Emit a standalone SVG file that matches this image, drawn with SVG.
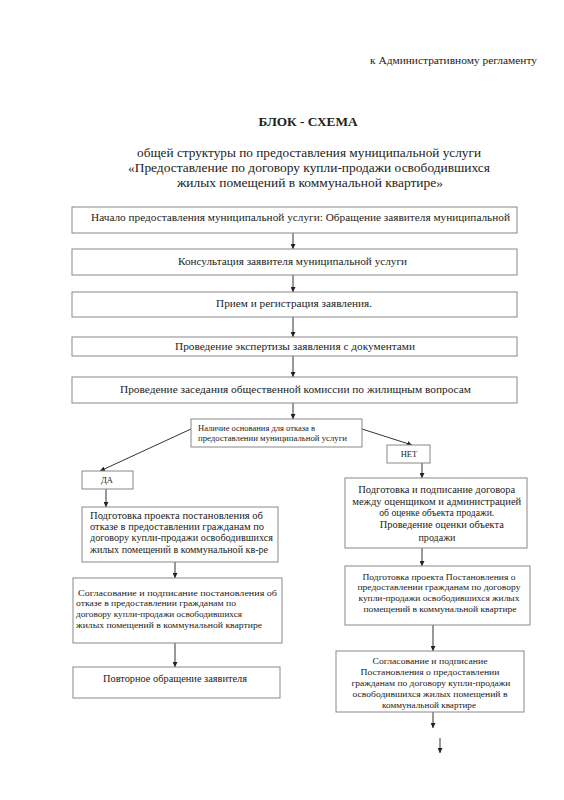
<svg xmlns="http://www.w3.org/2000/svg" width="564" height="800" viewBox="0 0 564 800">
<defs>
<marker id="ah" viewBox="0 0 10 10" refX="10" refY="5" markerWidth="5" markerHeight="5" markerUnits="userSpaceOnUse" orient="auto"><path d="M0,0 L10,5 L0,10 z" fill="#222"/></marker>
<style>
.t{font-family:"Liberation Serif","Times New Roman",serif;fill:#222}
.b{fill:#fff;stroke:#888;stroke-width:1}
.c{stroke:#333;stroke-width:1;fill:none;marker-end:url(#ah)}
.m{text-anchor:middle}
</style>
</defs>
<rect width="564" height="800" fill="#fff"/>
<g id="header">
<text class="t" x="537" y="64" font-size="11" text-anchor="end" textLength="167" lengthAdjust="spacingAndGlyphs">к Административному регламенту</text>
<text class="t m" x="308" y="126" font-size="13" font-weight="bold" textLength="99" lengthAdjust="spacingAndGlyphs">БЛОК - СХЕМА</text>
<text class="t m" x="309" y="157" font-size="12.5" textLength="344" lengthAdjust="spacingAndGlyphs">общей структуры по предоставления муниципальной услуги</text>
<text class="t m" x="309" y="172" font-size="12.5" textLength="362" lengthAdjust="spacingAndGlyphs">«Предоставление  по договору купли-продажи освободившихся</text>
<text class="t m" x="310" y="187" font-size="12.5" textLength="266" lengthAdjust="spacingAndGlyphs">жилых помещений  в коммунальной квартире»</text>
</g>
<g id="connectors">
<line class="c" x1="293" y1="233" x2="293" y2="249"/>
<line class="c" x1="293" y1="275" x2="293" y2="292"/>
<line class="c" x1="293" y1="317" x2="293" y2="337"/>
<line class="c" x1="293" y1="356" x2="293" y2="377"/>
<line class="c" x1="293" y1="403" x2="293" y2="419"/>
<line class="c" x1="191" y1="429" x2="100" y2="471"/>
<line class="c" x1="362" y1="429" x2="412" y2="445"/>
<line class="c" x1="106" y1="489" x2="106" y2="507"/>
<line class="c" x1="422" y1="463" x2="422" y2="478"/>
<line class="c" x1="422" y1="548" x2="422" y2="566"/>
<line class="c" x1="175" y1="562" x2="175" y2="578"/>
<line class="c" x1="433" y1="625" x2="433" y2="651"/>
<line class="c" x1="175" y1="643" x2="175" y2="667"/>
<line class="c" x1="433" y1="712" x2="433" y2="728"/>
<line class="c" x1="440" y1="738" x2="440" y2="753"/>
</g>
<g id="n1">
<rect class="b" x="72" y="207" width="445" height="26"/>
<text class="t" x="91" y="221" font-size="10.5" textLength="419" lengthAdjust="spacingAndGlyphs">Начало предоставления муниципальной услуги: Обращение заявителя муниципальной</text>
</g>
<g id="n2">
<rect class="b" x="72" y="249" width="445" height="26"/>
<text class="t" x="178" y="265" font-size="10.5" textLength="229" lengthAdjust="spacingAndGlyphs">Консультация заявителя муниципальной услуги</text>
</g>
<g id="n3">
<rect class="b" x="72" y="292" width="445" height="25"/>
<text class="t" x="216" y="307" font-size="10.5" textLength="156" lengthAdjust="spacingAndGlyphs">Прием и регистрация заявления.</text>
</g>
<g id="n4">
<rect class="b" x="72" y="337" width="445" height="19"/>
<text class="t" x="175" y="350" font-size="10.5" textLength="240" lengthAdjust="spacingAndGlyphs">Проведение экспертизы заявления с документами</text>
</g>
<g id="n5">
<rect class="b" x="72" y="377" width="445" height="26"/>
<text class="t" x="120" y="393" font-size="10.5" textLength="351" lengthAdjust="spacingAndGlyphs">Проведение заседания общественной комиссии по жилищным вопросам</text>
</g>
<g id="decision">
<rect class="b" x="191" y="419" width="171" height="28"/>
<text class="t" x="198" y="431" font-size="7.5" textLength="117" lengthAdjust="spacingAndGlyphs">Наличие основания для отказа в</text>
<text class="t" x="198" y="441" font-size="7.5" textLength="149" lengthAdjust="spacingAndGlyphs">предоставлении  муниципальной услуги</text>
</g>
<g id="yes">
<rect class="b" x="82" y="471" width="51" height="18"/>
<text class="t m" x="107" y="483" font-size="8.5">ДА</text>
</g>
<g id="no">
<rect class="b" x="387" y="445" width="43" height="18"/>
<text class="t m" x="409" y="457" font-size="8.5">НЕТ</text>
</g>
<g id="l1">
<rect class="b" x="82" y="507" width="196" height="55"/>
<text class="t" font-size="9.5">
<tspan x="90" y="519" textLength="173" lengthAdjust="spacingAndGlyphs">Подготовка проекта постановления об</tspan>
<tspan x="90" y="530" textLength="174" lengthAdjust="spacingAndGlyphs">отказе в  предоставлении гражданам по</tspan>
<tspan x="90" y="541" textLength="183" lengthAdjust="spacingAndGlyphs">договору купли-продажи освободившихся</tspan>
<tspan x="90" y="553" textLength="178" lengthAdjust="spacingAndGlyphs">жилых помещений в коммунальной кв-ре</tspan>
</text>
</g>
<g id="l2">
<rect class="b" x="73" y="578" width="209" height="65"/>
<text class="t" font-size="8.5">
<tspan x="78" y="596" textLength="199" lengthAdjust="spacingAndGlyphs">Согласование и подписание постановления  об</tspan>
<tspan x="76" y="606" textLength="160" lengthAdjust="spacingAndGlyphs">отказе в  предоставлении гражданам по</tspan>
<tspan x="76" y="617" textLength="166" lengthAdjust="spacingAndGlyphs">договору купли-продажи освободившихся</tspan>
<tspan x="76" y="628" textLength="186" lengthAdjust="spacingAndGlyphs">жилых помещений в коммунальной квартире</tspan>
</text>
</g>
<g id="l3">
<rect class="b" x="73" y="667" width="207" height="31"/>
<text class="t" x="103" y="682" font-size="9.5" textLength="144" lengthAdjust="spacingAndGlyphs">Повторное обращение заявителя</text>
</g>
<g id="r1">
<rect class="b" x="345" y="478" width="182" height="70"/>
<text class="t m" font-size="10">
<tspan x="438" y="493" textLength="157" lengthAdjust="spacingAndGlyphs">Подготовка и подписание договора</tspan>
<tspan x="438" y="505" textLength="169" lengthAdjust="spacingAndGlyphs">между оценщиком и администрацией</tspan>
<tspan x="438" y="516" textLength="115" lengthAdjust="spacingAndGlyphs">об оценке объекта продажи.</tspan>
<tspan x="443" y="528" textLength="124" lengthAdjust="spacingAndGlyphs">Проведение оценки объекта</tspan>
<tspan x="437" y="541" textLength="37" lengthAdjust="spacingAndGlyphs">продажи</tspan>
</text>
</g>
<g id="r2">
<rect class="b" x="345" y="566" width="185" height="59"/>
<text class="t m" font-size="8.5">
<tspan x="440" y="580" textLength="153" lengthAdjust="spacingAndGlyphs">Подготовка проекта Постановления о</tspan>
<tspan x="440" y="590" textLength="163" lengthAdjust="spacingAndGlyphs">предоставлении гражданам по договору</tspan>
<tspan x="440" y="601" textLength="161" lengthAdjust="spacingAndGlyphs">купли-продажи освободившихся жилых</tspan>
<tspan x="440" y="612" textLength="153" lengthAdjust="spacingAndGlyphs">помещений в коммунальной квартире</tspan>
</text>
</g>
<g id="r3">
<rect class="b" x="336" y="651" width="188" height="61"/>
<text class="t m" font-size="8.5">
<tspan x="431" y="664" textLength="115" lengthAdjust="spacingAndGlyphs">Согласование  и подписание</tspan>
<tspan x="431" y="675" textLength="139" lengthAdjust="spacingAndGlyphs">Постановления  о предоставлении</tspan>
<tspan x="432" y="686" textLength="159" lengthAdjust="spacingAndGlyphs">гражданам по договору купли-продажи</tspan>
<tspan x="431" y="697" textLength="155" lengthAdjust="spacingAndGlyphs">освободившихся жилых помещений в</tspan>
<tspan x="429" y="708" textLength="94" lengthAdjust="spacingAndGlyphs">коммунальной квартире</tspan>
</text>
</g>
</svg>
